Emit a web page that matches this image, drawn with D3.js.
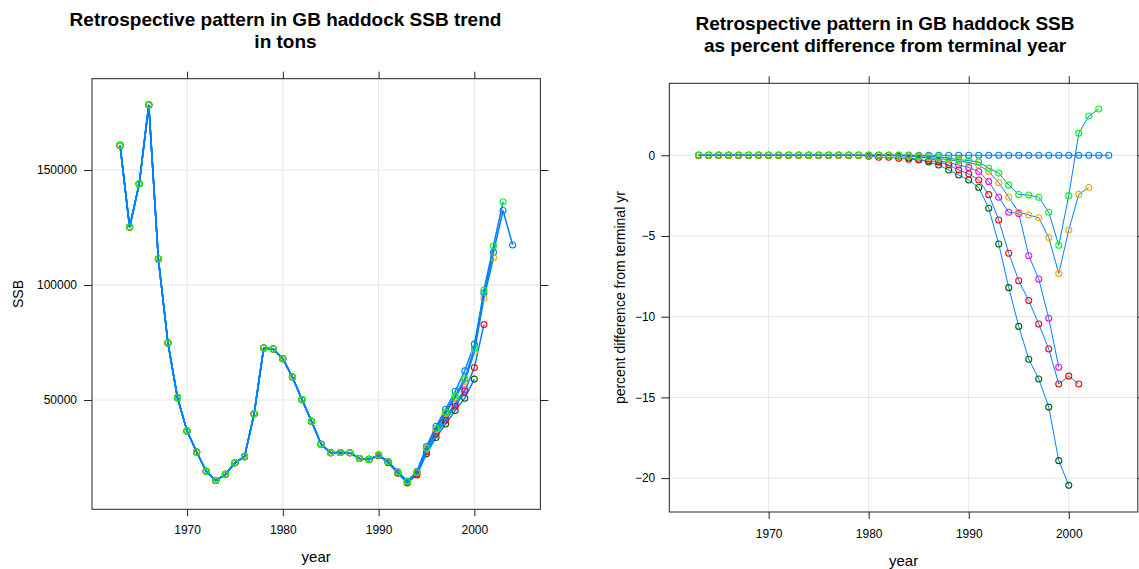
<!DOCTYPE html>
<html lang="en">
<head>
<meta charset="UTF-8">
<title>GB haddock SSB retrospective</title>
<style>
  body { margin: 0; background: #fff; }
  svg text { font-family: "Liberation Sans", Arial, sans-serif; fill: #000; }
  .tick text { font-size: 12px; }
  .tick line { stroke: #222; }
</style>
</head>
<body>
<script src="https://d3js.org/d3.v7.min.js"></script>
<script>
// first year of every run
const firstYear = 1963;

// SSB (tons) of the full run, terminal year 2004
const ssb2004 = [160700, 125200, 144000, 178300, 111300, 74800, 51000, 36500, 27400, 19000,
  15000, 17700, 22700, 25400, 44000, 72600, 72200, 68000, 60000, 50200,
  40800, 30800, 27100, 27200, 27100, 24600, 24200, 26200, 23300, 18800,
  14800, 18900, 29800, 38600, 46000, 53800, 62700, 74300, 96500, 114200,
  132400, 117400];

// retrospective peels, SSB from 1990 on (earlier years sit on the full run)
const tailStart = 1990;
const ssb1999Tail = [26000, 23100, 18500, 14400, 18200, 28700, 36200, 42500, 48400, 54500];
const ssb2000Tail = [25800, 22800, 18200, 14000, 17400, 26600, 33700, 39600, 45400, 50800, 59100];
const ssb2001Tail = [25900, 22900, 18300, 14200, 17800, 27500, 35100, 41200, 47300, 53800, 64100, 82800];
const ssb2002Tail = [26100, 23200, 18600, 14500, 18400, 28700, 37200, 44200, 51100, 58100, 70900, 94200, 111900];
const ssb2003Tail = [26100, 23200, 18600, 14600, 18500, 29100, 37700, 44800, 51900, 59200, 72400, 97800, 117000, 136200];

// percent difference from the terminal run, 1963 .. terminal year
const pct2004 = [0, 0, 0, 0, 0, 0, 0, 0, 0, 0, 0, 0, 0, 0, 0, 0, 0, 0, 0, 0, 0,
  0, 0, 0, 0, 0, 0, 0, 0, 0, 0, 0, 0, 0, 0, 0, 0, 0, 0, 0, 0, 0];
const pct1999 = [0, 0, 0, 0, 0, 0, 0, 0, 0, 0, 0, 0, 0, 0, 0, 0, 0, 0, 0, 0, 0, 0,
  -0.1, -0.2, -0.33, -0.46, -0.6, -0.75, -1.01, -1.63, -2.6, -3.53, -3.6, -6.22, -7.66, -10.1, -13.13];
const pct2000 = [0, 0, 0, 0, 0, 0, 0, 0, 0, 0, 0, 0, 0, 0, 0, 0, 0, 0, 0, 0,
  -0.05, -0.17, -0.25, -0.42, -0.6, -0.91, -1.22, -1.53, -2.0, -3.28, -5.5, -8.2, -10.6, -12.64,
  -13.86, -15.6, -18.92, -20.45];
const pct2001 = [0, 0, 0, 0, 0, 0, 0, 0, 0, 0, 0, 0, 0, 0, 0, 0, 0,
  -0.06, -0.12, -0.12, -0.19, -0.25, -0.29, -0.33, -0.41, -0.6, -0.91, -1.15, -1.53, -2.44, -4.01,
  -6.07, -7.77, -9.0, -10.45, -12.0, -14.17, -13.68, -14.17];
const pct2002 = [0, 0, 0, 0, 0, 0, 0, 0, 0, 0, 0, 0, 0, 0, 0, 0, 0, 0, 0, 0, 0,
  -0.05, -0.1, -0.15, -0.2, -0.28, -0.36, -0.45, -0.6, -1.01, -1.7, -2.6, -3.53, -3.7, -3.87,
  -5.1, -7.33, -4.63, -2.42, -2.0];
const pct2003 = [0, 0, 0, 0, 0, 0, 0, 0, 0, 0, 0, 0, 0, 0, 0, 0, 0, 0, 0, 0, 0, 0,
  -0.03, -0.06, -0.1, -0.18, -0.27, -0.33, -0.41, -0.8, -1.1, -1.85, -2.43, -2.46, -2.6,
  -3.53, -5.58, -2.5, 1.36, 2.43, 2.87];

// tick values
const yearTicks = [1970, 1980, 1990, 2000];
const ssbTicks = [50000, 100000, 150000];
const pctTicks = [-20, -15, -10, -5, 0];

// groups in drawing order (lattice superpose colours)
const head = ssb2004.slice(0, tailStart - firstYear);
const runs = [
  { ssb: ssb2004, pct: pct2004, col: "#0080ff" },
  { ssb: head.concat(ssb1999Tail), pct: pct1999, col: "#ff00ff" },
  { ssb: head.concat(ssb2000Tail), pct: pct2000, col: "#006400" },
  { ssb: head.concat(ssb2001Tail), pct: pct2001, col: "#ff0000" },
  { ssb: head.concat(ssb2002Tail), pct: pct2002, col: "#ffa500" },
  { ssb: head.concat(ssb2003Tail), pct: pct2003, col: "#00ff00" }
];

const svg = d3.select("body").append("svg")
  .attr("width", 1139).attr("height", 569);

function panel(opt) {
  const x = d3.scaleLinear().domain([1960.07, 2006.9]).range(opt.xr);
  const y = d3.scaleLinear().domain(opt.yd).range(opt.yr);
  const g = svg.append("g");

  // grid
  g.selectAll(".vg").data(yearTicks).enter().append("line")
    .attr("x1", d => x(d)).attr("x2", d => x(d))
    .attr("y1", opt.yr[0]).attr("y2", opt.yr[1])
    .attr("stroke", "#e6e6e6");
  g.selectAll(".hg").data(opt.yTicks).enter().append("line")
    .attr("x1", opt.xr[0]).attr("x2", opt.xr[1])
    .attr("y1", d => y(d)).attr("y2", d => y(d))
    .attr("stroke", "#e6e6e6");

  // axes on all four sides
  const ax = [
    g.append("g").attr("transform", "translate(0," + opt.yr[0] + ")")
      .call(d3.axisBottom(x).tickValues(yearTicks).tickFormat(d3.format("d")).tickSize(7).tickPadding(opt.xPad)),
    g.append("g").attr("transform", "translate(0," + opt.yr[1] + ")")
      .call(d3.axisTop(x).tickValues(yearTicks).tickFormat("").tickSize(7)),
    g.append("g").attr("transform", "translate(" + opt.xr[0] + ",0)")
      .call(d3.axisLeft(y).tickValues(opt.yTicks).tickFormat(d3.format("d")).tickSize(8).tickPadding(opt.yPad)),
    g.append("g").attr("transform", "translate(" + opt.xr[1] + ",0)")
      .call(d3.axisRight(y).tickValues(opt.yTicks).tickFormat("").tickSize(8))
  ];
  ax.forEach(a => { a.select(".domain").remove(); a.selectAll("text").attr("font-size", 12).attr("font-family", null); });

  // retrospective runs
  runs.forEach(r => {
    const pts = r[opt.key].map((v, i) => ({ yr: firstYear + i, v: v }));
    g.append("path").datum(pts)
      .attr("fill", "none").attr("stroke", "#0080ff").attr("stroke-width", opt.lw)
      .attr("d", d3.line().x(d => x(d.yr)).y(d => y(d.v)));
    g.selectAll(null).data(pts).enter().append("circle")
      .attr("cx", d => x(d.yr)).attr("cy", d => y(d.v)).attr("r", 3)
      .attr("fill", "none").attr("stroke", r.col).attr("stroke-width", 1.1);
  });

  // frame
  g.append("rect")
    .attr("x", opt.xr[0]).attr("y", opt.yr[1])
    .attr("width", opt.xr[1] - opt.xr[0]).attr("height", opt.yr[0] - opt.yr[1])
    .attr("fill", "none").attr("stroke", "#222");

  // titles and labels
  opt.title.forEach((t, i) => {
    svg.append("text").attr("x", opt.tx).attr("y", opt.ty + i * 21.5)
      .attr("text-anchor", "middle").attr("font-size", 19).attr("font-weight", "bold").text(t);
  });
  svg.append("text").attr("x", (opt.xr[0] + opt.xr[1]) / 2).attr("y", opt.xlabY)
    .attr("text-anchor", "middle").attr("font-size", 15).text("year");
  const my = (opt.yr[0] + opt.yr[1]) / 2;
  svg.append("text").attr("transform", "translate(" + opt.ylabX + "," + my + ") rotate(-90)")
    .attr("text-anchor", "middle").attr("font-size", 14).text(opt.ylab);
}

panel({
  key: "ssb", xr: [92, 540.4], yr: [509.3, 78.7], yd: [2500, 189700], yTicks: ssbTicks,
  xPad: 9, yPad: 7, lw: 1.5,
  title: ["Retrospective pattern in GB haddock SSB trend", "in tons"], tx: 285.5, ty: 26,
  xlabY: 562, ylab: "SSB", ylabX: 23
});

panel({
  key: "pct", xr: [669.3, 1137.8], yr: [512, 83.3], yd: [-22.1, 4.46], yTicks: pctTicks,
  xPad: 10, yPad: 6, lw: 1,
  title: ["Retrospective pattern in GB haddock SSB", "as percent difference from terminal year"], tx: 885, ty: 30,
  xlabY: 566, ylab: "percent difference from terminal yr", ylabX: 625
});
</script>
</body>
</html>
